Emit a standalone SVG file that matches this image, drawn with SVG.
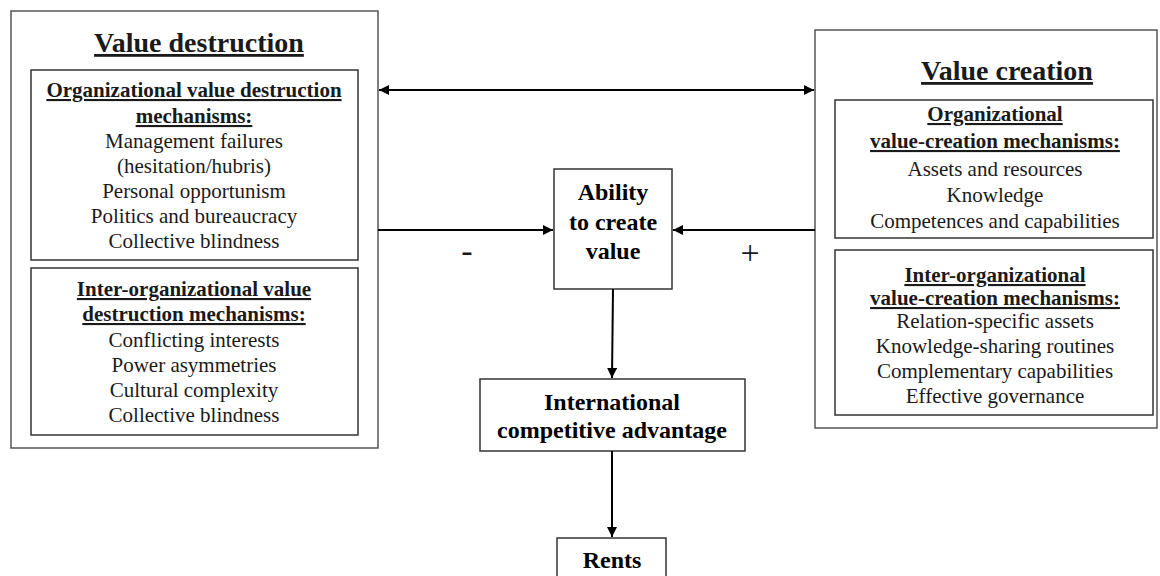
<svg xmlns="http://www.w3.org/2000/svg" width="1160" height="576" viewBox="0 0 1160 576">
<style>
.box{fill:#fff;stroke:#333;stroke-width:1.5}
.obox{fill:#fff;stroke:#555;stroke-width:1.5}
.t{font-family:"Liberation Serif","Times New Roman",serif;text-anchor:middle;fill:#1a1a1a}
.title{font-size:28px;font-weight:bold;text-decoration:underline}
.h{font-size:21px;font-weight:bold;text-decoration:underline}
.b{font-size:21px}
.n{font-size:24px;font-weight:bold;fill:#000}
.c{stroke:#000;stroke-width:2;fill:none}
</style>
<defs>
<marker id="ah" viewBox="0 0 10 10" refX="10" refY="5" markerWidth="7" markerHeight="7" markerUnits="userSpaceOnUse" orient="auto-start-reverse">
<path d="M0,0 L10,5 L0,10 z" fill="#000"/>
</marker>
<marker id="ahl" viewBox="0 0 10 10" refX="10" refY="5" markerWidth="12" markerHeight="10" markerUnits="userSpaceOnUse" orient="auto-start-reverse">
<path d="M0,0 L10,5 L0,10 z" fill="#000"/>
</marker>
</defs>
<rect width="1160" height="576" fill="#fff"/>

<g id="value-destruction">
<rect class="obox" x="11" y="11" width="367" height="437"/>
<text class="t title" x="199" y="52">Value destruction</text>
</g>
<g id="org-destruction">
<rect class="box" x="31" y="70" width="327" height="190"/>
<text class="t h" x="194" y="97">Organizational value destruction</text>
<text class="t h" x="194" y="123">mechanisms:</text>
<text class="t b" x="194" y="148">Management failures</text>
<text class="t b" x="194" y="173">(hesitation/hubris)</text>
<text class="t b" x="194" y="198">Personal opportunism</text>
<text class="t b" x="194" y="223">Politics and bureaucracy</text>
<text class="t b" x="194" y="248">Collective blindness</text>
</g>
<g id="inter-destruction">
<rect class="box" x="31" y="268" width="327" height="167"/>
<text class="t h" x="194" y="296">Inter-organizational value</text>
<text class="t h" x="194" y="321">destruction mechanisms:</text>
<text class="t b" x="194" y="347">Conflicting interests</text>
<text class="t b" x="194" y="372">Power asymmetries</text>
<text class="t b" x="194" y="397">Cultural complexity</text>
<text class="t b" x="194" y="422">Collective blindness</text>
</g>

<g id="value-creation">
<rect class="obox" x="815" y="30" width="342" height="398"/>
<text class="t title" x="1007" y="80">Value creation</text>
</g>
<g id="org-creation">
<rect class="box" x="835" y="100" width="318" height="138"/>
<text class="t h" x="995" y="121">Organizational</text>
<text class="t h" x="995" y="148">value-creation mechanisms:</text>
<text class="t b" x="995" y="176">Assets and resources</text>
<text class="t b" x="995" y="202">Knowledge</text>
<text class="t b" x="995" y="228">Competences and capabilities</text>
</g>
<g id="inter-creation">
<rect class="box" x="835" y="250" width="318" height="165"/>
<text class="t h" x="995" y="282">Inter-organizational</text>
<text class="t h" x="995" y="305">value-creation mechanisms:</text>
<text class="t b" x="995" y="328">Relation-specific assets</text>
<text class="t b" x="995" y="353">Knowledge-sharing routines</text>
<text class="t b" x="995" y="378">Complementary capabilities</text>
<text class="t b" x="995" y="403">Effective governance</text>
</g>

<g id="ability">
<rect class="box" x="554" y="169" width="118" height="120"/>
<text class="t n" x="613" y="200">Ability</text>
<text class="t n" x="613" y="230">to create</text>
<text class="t n" x="613" y="259">value</text>
</g>
<g id="advantage">
<rect class="box" x="480" y="379" width="265" height="72"/>
<text class="t n" x="612" y="410">International</text>
<text class="t n" x="612" y="438">competitive advantage</text>
</g>
<g id="rents">
<rect class="box" x="557" y="538" width="109" height="45"/>
<text class="t n" x="612" y="568">Rents</text>
</g>

<g id="connectors">
<line class="c" x1="379" y1="90" x2="814" y2="90" marker-start="url(#ahl)" marker-end="url(#ahl)"/>
<line class="c" x1="378" y1="230" x2="553" y2="230" marker-end="url(#ahl)"/>
<line class="c" x1="815" y1="230" x2="673" y2="230" marker-end="url(#ahl)"/>
<line class="c" x1="613" y1="289" x2="612" y2="378" marker-end="url(#ahl)"/>
<line class="c" x1="612" y1="451" x2="612" y2="537" marker-end="url(#ahl)"/>
<text class="t" x="467" y="262" style="font-size:34px">-</text>
<text class="t" x="750" y="264" style="font-size:34px">+</text>
</g>
</svg>
